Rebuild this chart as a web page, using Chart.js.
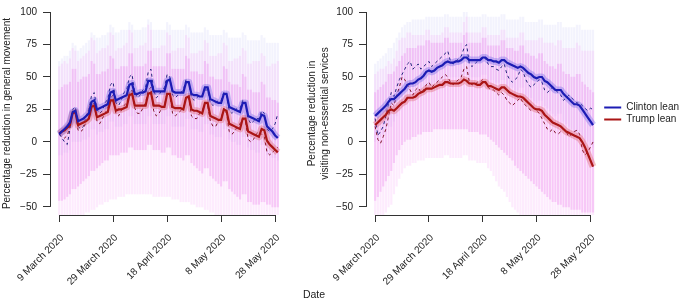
<!DOCTYPE html>
<html>
<head>
<meta charset="utf-8">
<script src="https://cdn.jsdelivr.net/npm/chart.js@4.4.0/dist/chart.umd.min.js"></script>
<style>
  body { margin: 0; background: #fff; overflow: hidden; }
  #wrap { position: relative; width: 685px; height: 299px; overflow: hidden; font-family: "Liberation Sans", Arial, sans-serif; }
  canvas { position: absolute; top: 0; }
  #left { left: 0; }
  #right { left: 300px; }
  #xlabel { position: absolute; left: 314px; top: 288px; transform: translateX(-50%); font-size: 10.5px; line-height: 12px; color: #222; }
</style>
</head>
<body>
<div id="wrap">
  <canvas id="left" width="300" height="299"></canvas>
  <canvas id="right" width="389" height="299"></canvas>
  <div id="xlabel">Date</div>
</div>
<script>
// days since 9 March 2020 (Mon) up to 29 May 2020
const days = Array.from({length: 82}, (_, i) => i);
const tickDays = [0, 20, 40, 60, 80];
const tickLabels = ['9 March 2020', '29 March 2020', '18 April 2020', '8 May 2020', '28 May 2020'];
const yTicks = [-50, -25, 0, 25, 50, 75, 100];

// ---- general movement (left) ----
const moveClinton = [6,8,10,12,15,23,24, 16,17,18,20,22,31,32, 25,26,27,28,29,38,39, 32,33,34,35,36,44,45,
  37,37,38,38,39,47,47, 39,39,39,39,39,47,48, 39,38,38,38,38,46,46, 37,36,36,35,35,42,42,
  33,32,31,30,30,37,37, 27,26,25,24,23,30,30, 20,19,18,17,16,21,20, 12,10,8,5,3];
const moveTrump = [6.5,8,9,11,13,22,23, 13,14,15,16,18,27,28, 19,20,21,22,23,32,32, 24,25,25,26,27,36,37,
  28,28,28,28,28,37,38, 28,28,28,27,27,37,37, 27,26,26,26,25,34,35, 25,24,24,23,22,30,30,
  20,19,18,17,17,25,24, 14,13,12,11,10,18,18, 8,7,6,5,4,10,9, 1,-2,-4,-6,-8];
const moveClintonRaw = [6,3,0,-2,10,25,27, 12,10,12,20,25,36,38, 25,22,24,30,33,44,46, 30,28,32,38,40,50,52,
  38,34,36,40,42,54,56, 40,34,36,40,42,52,50, 36,34,36,38,40,48,46, 34,32,34,36,36,40,40,
  30,28,30,32,32,38,36, 24,22,24,26,26,32,30, 18,14,16,18,18,24,22, 10,8,10,14,22];
const moveTrumpRaw = [6,4,3,5,12,22,24, 9,8,10,16,18,28,30, 16,14,18,22,26,34,36, 22,20,24,28,30,38,40,
  26,22,22,26,30,40,42, 24,20,22,26,28,38,36, 22,20,22,24,26,34,34, 20,18,18,22,24,30,28,
  16,12,12,16,18,26,22, 8,6,8,12,14,18,16, 2,0,2,6,8,6,4, -8,-10,-8,-6,-4];
// spread of individual counties (pink = all, blue = Clinton-leaning)
const movePinkHi = [58,60,62,60,64,72,70, 62,64,66,68,70,80,78, 68,70,72,72,74,84,82, 70,72,72,74,76,86,84,
  72,72,74,74,76,90,86, 72,72,72,74,74,84,82, 70,70,72,72,72,82,80, 68,68,68,70,70,78,76,
  66,66,66,68,68,76,74, 62,62,64,64,66,72,70, 60,60,62,62,62,68,66, 58,58,60,60,62];
const movePinkLo = [-56,-56,-56,-56,-56,-56,-56, -56,-56,-56,-54,-54,-52,-52, -50,-48,-48,-46,-46,-44,-44,
  -44,-42,-42,-42,-40,-40,-40, -40,-40,-40,-40,-40,-40,-40, -42,-42,-42,-42,-42,-42,-42,
  -44,-44,-44,-46,-46,-46,-46, -48,-48,-50,-50,-50,-52,-52, -54,-54,-56,-56,-56,-56,-56,
  -56,-56,-56,-56,-56,-56,-56, -56,-56,-56,-56,-56,-56,-56, -56,-56,-56,-56,-56];
const moveCoreHi = [40,42,44,44,46,56,56, 46,48,50,50,52,62,60, 52,52,54,54,56,66,64, 56,56,58,58,58,68,68,
  58,58,58,58,60,70,70, 58,58,58,58,58,68,68, 56,56,56,56,56,66,64, 54,54,54,52,52,62,60,
  50,50,48,48,48,58,56, 46,44,44,44,42,52,50, 40,40,38,38,38,46,44, 34,34,32,32,30];
const moveCoreLo = [-45,-45,-44,-42,-40,-36,-36, -34,-32,-30,-28,-26,-22,-22, -20,-18,-16,-14,-14,-10,-10,
  -10,-10,-8,-8,-8,-4,-4, -6,-6,-6,-6,-6,-2,-2, -6,-6,-6,-8,-8,-4,-4, -10,-10,-12,-12,-14,-10,-10,
  -16,-18,-20,-22,-24,-20,-20, -26,-28,-30,-32,-34,-30,-30, -36,-38,-40,-42,-44,-40,-40,
  -46,-46,-48,-48,-48,-46,-46, -48,-48,-50,-50,-50];
const moveBlueHi = [62,64,66,66,70,76,74, 70,72,74,76,78,84,82, 80,80,82,82,84,90,88, 84,84,86,86,86,92,90,
  86,86,86,88,88,94,92, 86,86,86,86,86,92,90, 86,86,86,86,86,90,88, 84,84,84,84,84,88,86,
  82,82,82,82,82,86,84, 80,80,80,80,80,84,82, 78,78,78,78,78,82,80, 76,76,76,76,76];
const moveBlueLo = [-10,-10,-8,-8,-6,0,0, 0,0,2,2,4,10,10, 6,8,8,10,10,16,16, 12,12,12,14,14,20,20,
  14,14,14,14,14,20,20, 14,14,14,14,14,20,20, 12,12,12,12,12,18,18, 10,10,10,8,8,14,14,
  6,6,4,4,4,10,10, 2,0,0,-2,-2,4,4, -4,-6,-6,-8,-8,-2,-2, -10,-10,-12,-12,-14];

// ---- non-essential services (right) ----
const visitClinton = [20,22,24,26,28,31,33, 33,35,37,39,41,44,45, 45,46,48,49,51,54,55, 54,55,57,58,59,61,62,
  61,61,62,62,63,65,65, 63,63,63,63,63,65,65, 63,63,62,62,61,63,63, 61,60,59,58,57,58,57,
  55,53,52,50,49,50,50, 47,46,44,42,40,40,40, 37,35,33,31,29,29,28, 25,22,19,16,13];
const visitTrump = [13,15,17,19,21,24,25, 24,26,28,30,31,34,34, 34,35,37,38,39,41,41, 41,42,43,44,44,46,46,
  45,45,45,45,46,48,47, 45,45,45,44,44,46,46, 43,43,42,41,40,42,42, 40,38,37,36,35,35,34,
  32,30,28,26,25,25,24, 21,19,17,15,14,13,12, 10,8,7,6,5,4,3, 0,-4,-9,-14,-19];
const visitClintonRaw = [18,5,8,12,20,30,38, 35,42,48,52,56,60,62, 56,58,60,56,58,60,62, 58,60,62,64,66,68,70,
  62,60,62,64,66,72,75, 60,58,60,62,64,66,64, 60,58,58,56,55,58,60, 52,48,46,48,50,56,54,
  48,44,42,44,46,48,46, 40,38,40,42,40,38,36, 32,34,36,34,32,30,30, 28,26,24,26,25];
const visitTrumpRaw = [12,2,-1,4,10,20,30, 28,36,42,50,48,44,40, 36,40,42,38,40,44,46, 42,44,46,48,50,52,50,
  46,44,46,48,50,56,58, 46,44,44,46,46,48,46, 42,40,40,38,36,38,36, 32,30,28,30,32,34,30,
  28,26,24,26,24,22,18, 14,10,8,10,7,6,8, 10,8,4,6,8,9,6, -6,-10,-8,-4,0];
const visitPinkHi = [52,54,56,56,58,62,60, 64,70,78,80,80,84,84, 82,82,82,82,82,86,86, 82,82,82,82,84,88,88,
  84,84,84,84,84,92,96, 84,84,84,84,84,88,88, 82,82,82,82,82,86,86, 80,80,80,80,80,84,84,
  78,78,78,78,78,80,80, 76,76,76,76,74,78,78, 72,72,72,72,72,76,74, 70,70,70,70,70];
const visitPinkLo = [-56,-56,-56,-56,-54,-50,-48, -40,-34,-28,-24,-20,-18,-18, -16,-16,-14,-14,-14,-12,-12,
  -12,-12,-12,-12,-12,-10,-10, -12,-12,-12,-12,-12,-10,-10, -14,-14,-14,-16,-16,-16,-16,
  -20,-22,-26,-30,-34,-36,-38, -42,-46,-50,-52,-54,-56,-56, -56,-56,-56,-56,-56,-56,-56,
  -56,-56,-56,-56,-56,-56,-56, -56,-56,-56,-56,-56,-56,-56, -56,-56,-56,-56,-56];
const visitCoreHi = [38,40,42,44,46,52,52, 54,58,62,66,68,72,72, 72,72,74,74,74,78,78, 76,76,76,76,76,80,80,
  76,76,76,76,76,82,84, 76,76,76,76,76,80,80, 74,74,74,74,74,78,78, 72,72,72,70,70,74,74,
  68,68,66,66,64,68,68, 62,60,58,58,56,60,60, 54,52,52,50,50,52,52, 46,44,42,40,38];
const visitCoreLo = [-45,-42,-38,-34,-30,-26,-22, -16,-10,-6,-2,0,2,2, 4,4,6,6,8,8,8, 8,10,10,10,10,10,10,
  10,10,10,10,10,10,10, 8,8,8,8,6,6,6, 4,2,0,-2,-4,-6,-8, -10,-12,-14,-18,-20,-22,-24,
  -26,-28,-30,-32,-34,-36,-38, -40,-42,-44,-46,-46,-48,-48, -50,-50,-50,-52,-52,-52,-52, -54,-54,-54,-54,-54];
const visitBlueHi = [60,62,64,66,68,72,72, 76,80,84,88,90,92,92, 94,94,94,94,94,96,96, 96,96,96,96,96,98,98,
  96,96,96,96,96,100,100, 96,96,96,96,96,98,98, 96,96,96,96,96,98,98, 94,94,94,94,94,96,96,
  92,92,92,92,92,94,94, 90,90,90,90,90,92,92, 88,88,88,88,88,90,90, 86,86,86,86,86];
const visitBlueLo = [0,2,4,6,8,12,12, 16,20,24,28,30,32,34, 36,38,40,40,42,44,44, 44,46,46,48,48,50,50,
  50,50,50,50,50,52,52, 50,50,50,50,50,52,52, 48,48,48,46,46,48,48, 44,42,42,40,40,42,42,
  36,34,34,32,30,32,32, 28,26,24,22,20,22,22, 16,14,12,10,8,8,8, 4,2,0,-2,-4];

const FONT = "'Liberation Sans', Arial, sans-serif";

// R-style axis spines that only run from first to last tick
const axisSpine = {
  id: 'axisSpine',
  afterDraw(chart) {
    const {ctx, chartArea, scales: {x, y}} = chart;
    ctx.save();
    ctx.strokeStyle = '#333';
    ctx.lineWidth = 1;
    ctx.beginPath();
    const yb = Math.round(chartArea.bottom) + 0.5;
    ctx.moveTo(x.getPixelForValue(tickDays[0]), yb);
    ctx.lineTo(x.getPixelForValue(tickDays[tickDays.length - 1]), yb);
    const xl = Math.round(chartArea.left) + 0.5;
    ctx.moveTo(xl, y.getPixelForValue(yTicks[0]));
    ctx.lineTo(xl, y.getPixelForValue(yTicks[yTicks.length - 1]));
    ctx.stroke();
    ctx.restore();
  }
};

const xy = arr => days.map(d => ({x: d, y: arr[d]}));

function mainLine(label, arr, color) {
  return {label, data: xy(arr), borderColor: color, backgroundColor: color, borderWidth: 2.2,
    pointRadius: 0, tension: 0, order: 1};
}
function bandLine(arr, color) {
  return {label: 'band', data: xy(arr), borderColor: color, borderWidth: 7,
    pointRadius: 0, tension: 0, order: 2, borderJoinStyle: 'round'};
}
function dashLine(arr, color) {
  return {label: 'raw', data: xy(arr), borderColor: color, borderWidth: 1, borderDash: [3, 3],
    pointRadius: 0, tension: 0, order: 3};
}
function cloudBars(lo, hi, color, order) {
  return {type: 'bar', label: 'cloud', data: days.map(d => ({x: d, y: [lo[d], hi[d]]})),
    backgroundColor: color, barThickness: 1.5, grouped: false, borderWidth: 0, order};
}

function makeChart(id, cfg) {
  return new Chart(document.getElementById(id), {
    type: 'line',
    data: {
      datasets: [
        mainLine('Clinton lean', cfg.clinton, '#1c1cb4'),
        mainLine('Trump lean', cfg.trump, '#aa1515'),
        bandLine(cfg.clinton, 'rgba(80,80,225,0.3)'),
        bandLine(cfg.trump, 'rgba(215,70,70,0.3)'),
        dashLine(cfg.clintonRaw, '#24247e'),
        dashLine(cfg.trumpRaw, '#7e1228'),
        cloudBars(cfg.coreLo, cfg.coreHi, 'rgba(232,100,232,0.26)', 4),
        cloudBars(cfg.pinkLo, cfg.pinkHi, 'rgba(240,130,240,0.16)', 5),
        cloudBars(cfg.blueLo, cfg.blueHi, 'rgba(120,120,230,0.09)', 6)
      ]
    },
    plugins: [axisSpine],
    options: {
      responsive: false,
      animation: false,
      events: [],
      layout: {padding: cfg.padding},
      plugins: {
        tooltip: {enabled: false},
        legend: cfg.legend ? {
          position: 'right',
          fullSize: false,
          labels: {
            usePointStyle: true, pointStyle: 'line', pointStyleWidth: 17, padding: 2,
            color: '#222', font: {family: FONT, size: 10},
            filter: item => item.text === 'Clinton lean' || item.text === 'Trump lean'
          }
        } : {display: false}
      },
      scales: {
        x: {
          type: 'linear', min: -3.4, max: 84.4, offset: false,
          afterFit: s => { s.height = 84; },
          afterBuildTicks: s => { s.ticks = tickDays.map(v => ({value: v})); },
          grid: {drawOnChartArea: false, tickLength: 7, color: '#333', offset: false},
          border: {display: false},
          ticks: {
            autoSkip: false, minRotation: 45, maxRotation: 45, padding: 10, labelOffset: 3,
            color: '#222', font: {family: FONT, size: 10},
            callback: (v, i) => tickLabels[i]
          }
        },
        y: {
          min: -56.2, max: 100,
          afterFit: s => { s.width = cfg.yWidth; },
          afterBuildTicks: s => { s.ticks = yTicks.map(v => ({value: v})); },
          grid: {drawOnChartArea: false, tickLength: 7, color: '#333'},
          border: {display: false},
          ticks: {
            padding: 6, color: '#222', font: {family: FONT, size: 10},
            callback: v => String(v).replace('-', '\u2212')
          },
          title: {
            display: true, text: cfg.yTitle, color: '#222',
            font: {family: FONT, size: 10, lineHeight: 1.3},
            padding: {top: cfg.titlePad, bottom: 0}
          }
        }
      }
    }
  });
}

makeChart('left', {
  clinton: moveClinton, trump: moveTrump, clintonRaw: moveClintonRaw, trumpRaw: moveTrumpRaw,
  pinkLo: movePinkLo, pinkHi: movePinkHi, coreLo: moveCoreLo, coreHi: moveCoreHi,
  blueLo: moveBlueLo, blueHi: moveBlueHi,
  yTitle: 'Percentage reduction in general movement', yWidth: 50, titlePad: 0.5,
  padding: {top: 7, right: 13, left: 0, bottom: 0}, legend: false
});

makeChart('right', {
  clinton: visitClinton, trump: visitTrump, clintonRaw: visitClintonRaw, trumpRaw: visitTrumpRaw,
  pinkLo: visitPinkLo, pinkHi: visitPinkHi, coreLo: visitCoreLo, coreHi: visitCoreHi,
  blueLo: visitBlueLo, blueHi: visitBlueHi,
  yTitle: ['Percentage reduction in', 'visiting non-essential services'], yWidth: 66, titlePad: 5.5,
  padding: {top: 7, right: 0, left: 0, bottom: 0}, legend: true
});
</script>
</body>
</html>
